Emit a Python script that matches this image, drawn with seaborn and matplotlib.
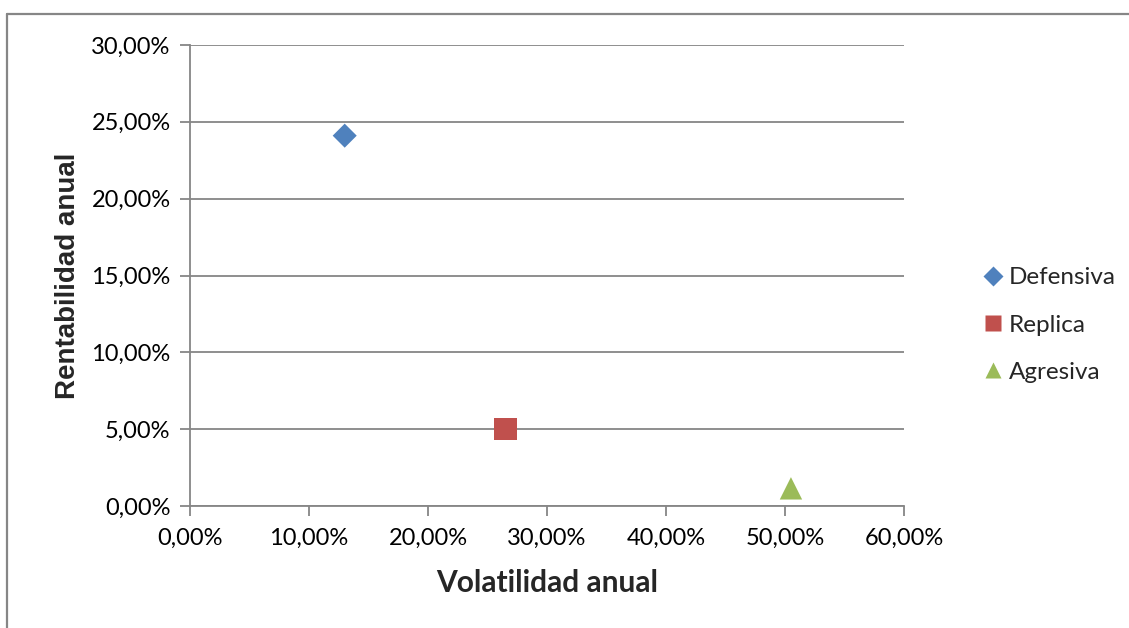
import matplotlib
matplotlib.use("Agg")
import matplotlib.pyplot as plt
import seaborn as sns
import pandas as pd
from matplotlib.ticker import FuncFormatter, MultipleLocator
from matplotlib.lines import Line2D

# Portfolio risk / return figures (annual, in %)
carteras = ["Defensiva", "Replica", "Agresiva"]
volatilidad = [13.0, 26.5, 50.5]
rentabilidad = [24.1, 5.0, 1.15]

colores = {"Defensiva": "#4F81BD", "Replica": "#C0504D", "Agresiva": "#9BBB59"}
marcadores = {"Defensiva": "D", "Replica": "s", "Agresiva": "^"}
tamanos = {"Defensiva": 150, "Replica": 260, "Agresiva": 260}

df = pd.DataFrame({"cartera": carteras, "vol": volatilidad, "rent": rentabilidad})

sns.set_theme(style="white")
plt.rcParams["font.family"] = ["Lato", "DejaVu Sans"]

fig = plt.figure(figsize=(11.29, 6.28), dpi=100)
ax = fig.add_axes([190 / 1129, 1 - 506 / 628, 714 / 1129, 461 / 628])

for c in carteras:
    sub = df[df["cartera"] == c]
    sns.scatterplot(data=sub, x="vol", y="rent", ax=ax, color=colores[c],
                    marker=marcadores[c], s=tamanos[c], edgecolor="none",
                    linewidth=0, zorder=3, legend=False)

ax.set_xlim(0, 60)
ax.set_ylim(0, 30)
ax.xaxis.set_major_locator(MultipleLocator(10))
ax.yaxis.set_major_locator(MultipleLocator(5))
fmt = FuncFormatter(lambda v, p: f"{v:.2f}".replace(".", ",") + "%")
ax.xaxis.set_major_formatter(fmt)
ax.yaxis.set_major_formatter(fmt)

ax.grid(axis="y", color="#868686", linewidth=1.3)
ax.grid(axis="x", visible=False)
for s in ["top", "right"]:
    ax.spines[s].set_visible(False)
for s in ["left", "bottom"]:
    ax.spines[s].set_color("#868686")
    ax.spines[s].set_linewidth(1.3)
ax.tick_params(axis="both", which="major", direction="out", length=7,
               width=1.3, color="#868686", labelsize=17, labelcolor="black",
               left=True, bottom=True)
ax.tick_params(axis="y", pad=7)
ax.tick_params(axis="x", pad=9)

ax.set_xlabel("Volatilidad anual", fontsize=21.5, fontweight="bold", labelpad=14)
ax.set_ylabel("Rentabilidad anual", fontsize=20, fontweight="bold", labelpad=7,
              family=["Liberation Sans", "DejaVu Sans"])

handles = [Line2D([0], [0], marker=marcadores[c], color="none",
                  markerfacecolor=colores[c], markeredgecolor="none",
                  markersize=12 if c != "Defensiva" else 10, label=c)
           for c in carteras]
fig.legend(handles=handles, loc="center left", bbox_to_anchor=(974 / 1129, 1 - 325 / 628),
           frameon=False, fontsize=17.5, handlelength=0.8, handletextpad=0.25,
           labelspacing=1.08, borderaxespad=0)

# chart frame
fig.add_artist(plt.Line2D([7 / 1129, 7 / 1129], [0, 1 - 14 / 628],
                          transform=fig.transFigure, color="#868686", linewidth=1.6))
fig.add_artist(plt.Line2D([7 / 1129, 1], [1 - 14 / 628, 1 - 14 / 628],
                          transform=fig.transFigure, color="#868686", linewidth=1.6))

fig.savefig("out.png", dpi=100, facecolor="white")
